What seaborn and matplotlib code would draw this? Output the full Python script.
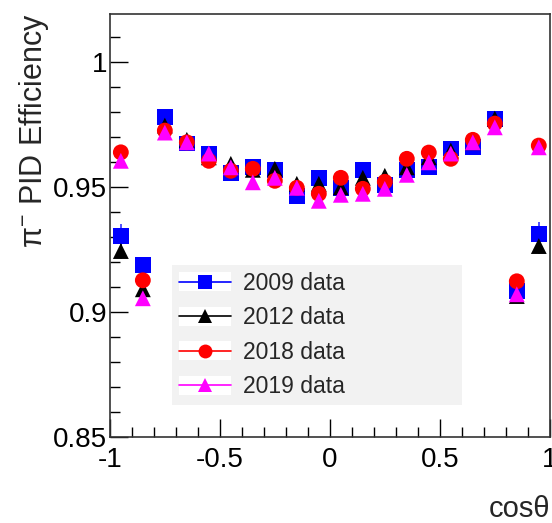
import numpy as np
import pandas as pd
import seaborn as sns
import matplotlib
matplotlib.use("Agg")
import matplotlib.pyplot as plt
from matplotlib.lines import Line2D
from matplotlib.patches import Rectangle
from matplotlib.legend_handler import HandlerLine2D
from matplotlib.ticker import MultipleLocator

cos_theta = [-0.95, -0.85, -0.75, -0.65, -0.55, -0.45, -0.35, -0.25, -0.15, -0.05,
             0.05, 0.15, 0.25, 0.35, 0.45, 0.55, 0.65, 0.75, 0.85, 0.95]

eff_2009 = [0.9305, 0.9190, 0.9783, 0.9675, 0.9635, 0.9558, 0.9580, 0.9570, 0.9466, 0.9538,
            0.9498, 0.9570, 0.9510, 0.9570, 0.9580, 0.9655, 0.9660, 0.9775, 0.9084, 0.9313]
eff_2012 = [0.9245, 0.9092, 0.9747, 0.9690, 0.9620, 0.9594, 0.9570, 0.9574, 0.9514, 0.9514,
            0.9500, 0.9538, 0.9546, 0.9580, 0.9620, 0.9647, 0.9680, 0.9775, 0.9065, 0.9265]
eff_2018 = [0.9640, 0.9128, 0.9727, 0.9680, 0.9606, 0.9566, 0.9574, 0.9526, 0.9498, 0.9474,
            0.9538, 0.9494, 0.9522, 0.9614, 0.9639, 0.9614, 0.9690, 0.9755, 0.9124, 0.9667]
eff_2019 = [0.9606, 0.9056, 0.9719, 0.9680, 0.9635, 0.9580, 0.9520, 0.9538, 0.9498, 0.9446,
            0.9470, 0.9474, 0.9494, 0.9550, 0.9600, 0.9635, 0.9680, 0.9740, 0.9072, 0.9660]

err_2009 = [0.005, 0.003, 0.002, 0.002, 0.002, 0.002, 0.002, 0.002, 0.002, 0.002,
            0.002, 0.002, 0.002, 0.002, 0.002, 0.002, 0.002, 0.002, 0.003, 0.005]
err_2012 = [0.003, 0.002, 0.001, 0.001, 0.001, 0.001, 0.001, 0.001, 0.001, 0.001,
            0.001, 0.001, 0.001, 0.001, 0.001, 0.001, 0.001, 0.001, 0.002, 0.003]
err_2018 = [0.001] * 20
err_2019 = [0.001] * 20

labels = ["2009 data", "2012 data", "2018 data", "2019 data"]
colors = ["#0000ff", "#000000", "#ff0000", "#ff00ff"]
markers = ["s", "^", "o", "^"]
series = [eff_2009, eff_2012, eff_2018, eff_2019]
errors = [err_2009, err_2012, err_2018, err_2019]

sns.set_style("ticks")
plt.rcParams["font.family"] = ["Liberation Sans", "DejaVu Sans"]

fig = plt.figure(figsize=(5.52, 5.23), dpi=100)
ax = fig.add_axes([0.199, 0.164, 0.797, 0.809])

for lab, col, mk, vals, errs in zip(labels, colors, markers, series, errors):
    df = pd.DataFrame({"x": cos_theta, "y": vals})
    ax.errorbar(cos_theta, vals, yerr=errs, fmt="none", ecolor=col, elinewidth=1.2,
                capsize=0, zorder=2, alpha=0.8)
    sns.scatterplot(data=df, x="x", y="y", ax=ax, color=col, marker=mk, s=130,
                    edgecolor="none", linewidth=0, zorder=3, legend=False)

ax.set_xlim(-1, 1)
ax.set_ylim(0.85, 1.0193)
ax.xaxis.set_minor_locator(MultipleLocator(0.1))
ax.yaxis.set_minor_locator(MultipleLocator(0.01))
ax.set_xticks([-1, -0.5, 0, 0.5, 1])
ax.set_xticklabels(["-1", "-0.5", "0", "0.5", "1"])
ax.set_yticks([0.85, 0.9, 0.95, 1.0])
ax.set_yticklabels(["0.85", "0.9", "0.95", "1"])
ax.tick_params(which="both", direction="in", top=False, right=False, colors="#000000",
               labelsize=20)
ax.tick_params(which="major", length=13, width=1)
ax.tick_params(which="minor", length=7, width=1)
ax.tick_params(axis="x", pad=7)
ax.tick_params(axis="y", pad=2)
for sp in ax.spines.values():
    sp.set_color("#333333")
    sp.set_linewidth(1.2)
    sp.set_visible(True)

ax.set_xlabel("")
ax.set_ylabel("")
fig.text(0.996, 1 - 517 / 523, "cos\u03b8", ha="right", va="baseline", fontsize=21)
fig.text(0.03, 0.975, "\u03c0$^{\\mathregular{-}}$ PID Efficiency", rotation=90,
         ha="left", va="top", fontsize=22)


class WhiteBoxHandler(HandlerLine2D):
    def create_artists(self, legend, orig_handle, xdescent, ydescent, width, height,
                       fontsize, trans):
        rect = Rectangle((-xdescent, -ydescent - 0.1 * height), width, 1.2 * height,
                         facecolor="white", edgecolor="none", transform=trans)
        arts = super().create_artists(legend, orig_handle, xdescent, ydescent, width,
                                      height, fontsize, trans)
        return [rect] + list(arts)


handles = [Line2D([0], [0], color=c, marker=m, markersize=10, linewidth=1.2,
                  markeredgewidth=0) for c, m in zip(colors, markers)]
leg = ax.legend(handles, labels, loc="lower left",
                bbox_to_anchor=(0.141, 0.076, 0.659, 0.328), mode="expand",
                fontsize=16.5, frameon=True, fancybox=False, handlelength=2.3,
                handletextpad=0.5, labelspacing=0.5, borderpad=0.3,
                borderaxespad=0,
                handler_map={Line2D: WhiteBoxHandler()})
leg.get_frame().set_facecolor("#f2f2f2")
leg.get_frame().set_edgecolor("none")
leg.get_frame().set_alpha(1)

fig.savefig("out.png", dpi=100)
